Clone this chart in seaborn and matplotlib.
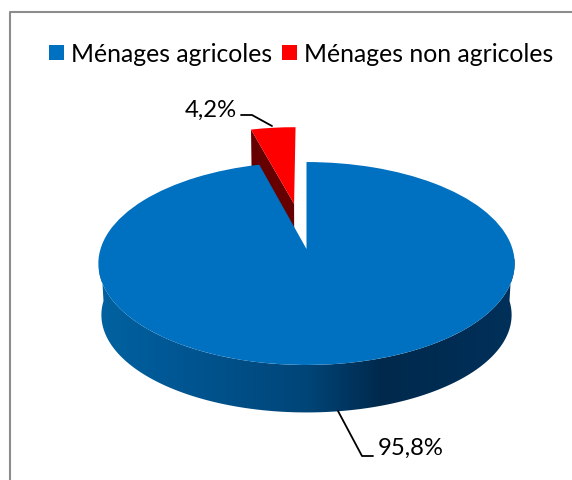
import numpy as np
import seaborn as sns
import matplotlib
matplotlib.use('Agg')
import matplotlib.pyplot as plt
from matplotlib.colors import LinearSegmentedColormap
from matplotlib.patches import Polygon
from matplotlib.transforms import Transform

# Data
categories = ['Ménages agricoles', 'Ménages non agricoles']
values = [95.8, 4.2]
top_colors = ['#0070C0', '#FF0000']
red_side = '#660000'
side_colors = ['#00629F', '#005A98', '#004578', '#00294C', '#00305A']

sns.set_theme(style='white')
plt.rcParams['font.family'] = ['Lato', 'DejaVu Sans']


# Squashed pie with a bit of perspective, output is in picture pixels
class Tilt(Transform):
    input_dims = 2
    output_dims = 2

    def __init__(self, x0, y0, b, a, k):
        super().__init__()
        self.x0, self.y0, self.b, self.a, self.k = x0, y0, b, a, k

    def transform_non_affine(self, pts):
        pts = np.asarray(pts, dtype=float)
        w = 1 + self.k * pts[:, 1]
        return np.column_stack([self.x0 + self.b * pts[:, 0] / w,
                                self.y0 - self.a * pts[:, 1] / w])


fig = plt.figure(figsize=(5.72, 4.81), dpi=100)
ax = fig.add_axes([0, 0, 1, 1])

top = Tilt(306.5, 250, 206, 99.4, 0.143)
bottom = Tilt(306.5, 302, 203, 95.5, 0.143)

wedges, _ = ax.pie(values, colors=top_colors, explode=[0, 0.49], startangle=90,
                   counterclock=False, frame=False)
ax.set_aspect('auto')
ax.axis('off')
ax.set_xlim(0, 572)
ax.set_ylim(481, 0)

# Chart frame, only the top and left edges are inside the picture
ax.plot([9.5, 9.5, 572], [481, 12.5, 12.5], color='#8c8c8c', lw=1.5, zorder=0)

# Side of the big slice: gradient clipped to the band between both rims
theta = np.radians(np.linspace(180, 360, 200))
rim = np.column_stack([np.cos(theta), np.sin(theta)])
band = np.vstack([top.transform(rim), bottom.transform(rim)[::-1]])
band_patch = Polygon(band, closed=True, transform=ax.transData, fc='none', ec='none')
ax.add_patch(band_patch)
cmap = LinearSegmentedColormap.from_list(
    'side', list(zip([0, 0.13, 0.5, 0.68, 1], side_colors)))
img = ax.imshow(np.linspace(0, 1, 256)[None, :], cmap=cmap, aspect='auto',
                extent=(99, 515, 420, 260), zorder=1)
img.set_clip_path(band_patch)
ax.set_xlim(0, 572)
ax.set_ylim(481, 0)

# Cut face of the small slice, sits behind the big slice
red = wedges[1]
cx, cy = red.center
edge = np.radians(max(red.theta1, red.theta2))
corner = [[cx + red.r * np.cos(edge), cy + red.r * np.sin(edge)]]
tip = [[cx, cy]]
face = np.vstack([top.transform(corner), top.transform(tip),
                  bottom.transform(tip), bottom.transform(corner)])
ax.add_patch(Polygon(face, closed=True, fc=red_side, ec='none', zorder=2))

red.set_transform(top + ax.transData)
red.set_zorder(3)
wedges[0].set_transform(top + ax.transData)
wedges[0].set_zorder(4)
for w in wedges:
    w.set_linewidth(0)

# Legend
ax.legend(wedges, categories, ncol=2, loc='center', bbox_to_anchor=(0.526, 0.886),
          frameon=False, fontsize=17.8, handlelength=0.6, handleheight=0.6,
          handletextpad=0.28, columnspacing=0.4, labelcolor='black',
          borderpad=0, borderaxespad=0)

# Data labels with leader lines
labels = [f'{v:.1f}%'.replace('.', ',') for v in values]
ax.plot([338, 362, 373], [412, 457, 457], color='black', lw=1.3, zorder=5)
ax.plot([241, 252, 272], [116, 116, 127], color='black', lw=1.3, zorder=5)
ax.text(378, 448, labels[0], fontsize=17.2, color='black', ha='left', va='center')
ax.text(237, 110, labels[1], fontsize=17.2, color='black', ha='right', va='center')

fig.savefig('out.png', dpi=100)
